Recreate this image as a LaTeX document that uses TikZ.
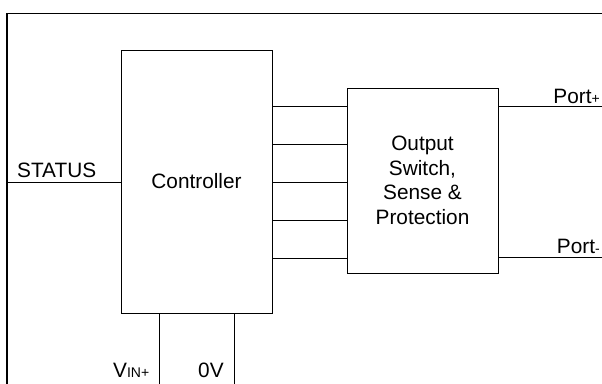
\documentclass[tikz,border=0pt]{standalone}
\usepackage{fontspec}
\setmainfont{Liberation Sans}
\begin{document}
\begin{tikzpicture}[x=1pt,y=-1pt,
  every node/.style={font=\fontsize{20.8}{24.5}\selectfont},
  block/.style={draw=black,line width=1pt,inner sep=0pt},
  wire/.style={draw=black,line width=1pt},
  frame/.style={draw=black,line width=1.6pt},
  lbl/.style={inner sep=0pt}]
\useasboundingbox (0,0) rectangle (602,383);
% frame
\coordinate (ftr) at (603,13.5);
\coordinate (ftl) at (7,13.5);
\coordinate (fbl) at (7,384);
\draw[frame] (ftr) -- (ftl) -- (fbl);
% blocks
\node[block,minimum width=151pt,minimum height=263pt] (ctrl) at (196.5,181.5) {Controller};
\node[block,minimum width=151pt,minimum height=185pt,align=center] (out) at (422.5,180.5) {Output\\Switch,\\Sense \&\\Protection};
% interconnects
\foreach \y/\n in {106.5/a,144.5/b,182.5/c,220.5/d,258.5/e}{
  \coordinate (c\n) at (272,\y);
  \coordinate (o\n) at (347,\y);
  \draw[wire] (c\n) -- (o\n);
}
% STATUS
\coordinate (st) at (7,182.5);
\draw[wire] (st) -- (ctrl.west |- st);
\node[lbl,anchor=base west] (status) at (17,177.5) {STATUS};
% ports
\coordinate (pp) at (602,106.5);
\coordinate (pm) at (602,257.5);
\draw[wire] (out.east |- pp) -- (pp);
\draw[wire] (out.east |- pm) -- (pm);
\node[lbl,anchor=base east] (portp) at (600,103) {Port{\fontsize{14}{16}\selectfont +}};
\node[lbl,anchor=base east] (portm) at (600,253) {Port{\fontsize{14}{16}\selectfont -}};
% bottom supply
\coordinate (vb) at (159,384);
\coordinate (zb) at (234,384);
\draw[wire] (ctrl.south -| vb) -- (vb);
\draw[wire] (ctrl.south -| zb) -- (zb);
\node[lbl,anchor=base west] (vin) at (113,377) {V{\fontsize{14}{16}\selectfont IN+}};
\node[lbl,anchor=base west] (zv) at (198,377) {0V};
\end{tikzpicture}
\end{document}
